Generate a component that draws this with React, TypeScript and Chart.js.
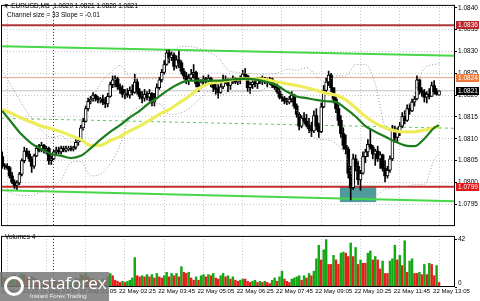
import React, { useEffect, useRef } from "react";
import { Chart, registerables } from "chart.js";

Chart.register(...registerables);

const FONT = '"Liberation Sans", Arial, sans-serif';

// ---- x slots (5-minute bars) ----
const SLOT_MIN = -0.5;
const SLOT_MAX = 184.5;

// ---- candles (EURUSD M5) ----
const OPEN = [
  1.08059, 1.08039, 1.08037, 1.08034, 1.08015, 1.08001, 1.07993, 1.07999, 1.08019, 1.0805,
  1.08072, 1.08065, 1.08054, 1.08037, 1.08061, 1.08078, 1.08074, 1.08085, 1.08074, 1.08078,
  1.0805, 1.08054, 1.0807, 1.08074, 1.0807, 1.08078, 1.08074, 1.08076, 1.08078, 1.08076,
  1.08081, 1.08092, 1.08096, 1.08125, 1.0814, 1.08169, 1.08186, 1.08191, 1.082, 1.08193,
  1.08189, 1.08191, 1.08184, 1.0818, 1.08197, 1.08224, 1.08235, 1.08237, 1.08219, 1.08213,
  1.08202, 1.08204, 1.082, 1.08211, 1.08206, 1.0823, 1.08208, 1.08197, 1.08193, 1.08202,
  1.08195, 1.08204, 1.08184, 1.08193, 1.08217, 1.08235, 1.08252, 1.0827, 1.08297, 1.08286,
  1.08292, 1.08266, 1.08281, 1.08274, 1.08255, 1.08244, 1.08233, 1.08239, 1.08248, 1.08252,
  1.08226, 1.08219, 1.0823, 1.08237, 1.08233, 1.08239, 1.08228, 1.08217, 1.08213, 1.08206,
  1.08219, 1.08235, 1.0823, 1.08222, 1.08233, 1.08237, 1.0823, 1.08235, 1.08239, 1.08248,
  1.08244, 1.08217, 1.08224, 1.0823, 1.08226, 1.08235, 1.0823, 1.08239, 1.08235, 1.0823,
  1.08237, 1.08222, 1.08217, 1.08208, 1.08195, 1.08193, 1.08186, 1.08184, 1.08191, 1.082,
  1.08175, 1.08156, 1.08129, 1.08147, 1.0814, 1.08131, 1.08123, 1.08118, 1.08153, 1.08129,
  1.08116, 1.08173, 1.08211, 1.0823, 1.08246, 1.08217, 1.08191, 1.08169, 1.08142, 1.08112,
  1.08085, 1.08076, 1.08021, 1.07988, 1.08054, 1.08037, 1.08006, 1.08021, 1.08059, 1.0807,
  1.08087, 1.08081, 1.08065, 1.08072, 1.08054, 1.08063, 1.08032, 1.08015, 1.08028, 1.08054,
  1.0812, 1.08103, 1.08116, 1.08129, 1.08151, 1.08142, 1.08169, 1.08164, 1.08184, 1.08191,
  1.08235, 1.08211, 1.08206, 1.08195, 1.08202, 1.08197, 1.08222, 1.08208, 1.082,
];
const HIGH = [
  1.0807, 1.08043, 1.08043, 1.08037, 1.08023, 1.08006, 1.08004, 1.08023, 1.08054, 1.08081,
  1.08078, 1.08072, 1.08059, 1.08065, 1.08085, 1.08087, 1.08092, 1.08087, 1.08083, 1.08081,
  1.08061, 1.08074, 1.08081, 1.08081, 1.08083, 1.08083, 1.08083, 1.08083, 1.08083, 1.08083,
  1.08098, 1.08103, 1.08131, 1.08147, 1.08175, 1.08193, 1.08197, 1.08206, 1.08202, 1.08197,
  1.08195, 1.082, 1.08195, 1.08204, 1.0823, 1.08244, 1.08244, 1.08241, 1.08226, 1.08222,
  1.08213, 1.08215, 1.08219, 1.08224, 1.08248, 1.08237, 1.08215, 1.08208, 1.08213, 1.08208,
  1.08213, 1.08206, 1.08204, 1.08226, 1.08241, 1.08259, 1.08279, 1.08303, 1.08303, 1.08299,
  1.08297, 1.0829, 1.08301, 1.08279, 1.08261, 1.08252, 1.08248, 1.08259, 1.0827, 1.08255,
  1.08239, 1.08235, 1.08244, 1.08241, 1.08246, 1.08241, 1.08233, 1.08226, 1.08224, 1.08226,
  1.08246, 1.08244, 1.08237, 1.08237, 1.08244, 1.08241, 1.08239, 1.08244, 1.08257, 1.08261,
  1.08246, 1.0823, 1.08237, 1.08235, 1.08241, 1.08241, 1.08244, 1.08241, 1.08239, 1.08241,
  1.08239, 1.0823, 1.08226, 1.08215, 1.08202, 1.08197, 1.08193, 1.08197, 1.08208, 1.08202,
  1.0818, 1.0816, 1.08153, 1.0816, 1.08156, 1.08147, 1.08138, 1.08164, 1.08169, 1.08136,
  1.08182, 1.08222, 1.08239, 1.08255, 1.0825, 1.08217, 1.08197, 1.08178, 1.08153, 1.08125,
  1.08109, 1.08081, 1.08037, 1.08065, 1.08063, 1.08048, 1.08028, 1.0807, 1.08076, 1.08098,
  1.08123, 1.08085, 1.08076, 1.08083, 1.0807, 1.08065, 1.0805, 1.08037, 1.08061, 1.08131,
  1.08129, 1.08125, 1.08138, 1.0816, 1.08164, 1.08178, 1.0818, 1.08191, 1.08197, 1.08244,
  1.08237, 1.08217, 1.08213, 1.08208, 1.08215, 1.0823, 1.08233, 1.08215, 1.0821,
];
const LOW = [
  1.08032, 1.0803, 1.0803, 1.0801, 1.07997, 1.07986, 1.07984, 1.07995, 1.08015, 1.08045,
  1.08059, 1.08048, 1.08023, 1.08032, 1.08059, 1.0807, 1.0807, 1.08067, 1.08065, 1.08041,
  1.08041, 1.08052, 1.08063, 1.08065, 1.08065, 1.0807, 1.0807, 1.08072, 1.08072, 1.08072,
  1.08076, 1.08085, 1.08094, 1.0812, 1.08138, 1.08164, 1.0818, 1.08186, 1.08186, 1.08182,
  1.08182, 1.08178, 1.08171, 1.08173, 1.08195, 1.08217, 1.08219, 1.08213, 1.08204, 1.08195,
  1.08191, 1.08195, 1.08193, 1.082, 1.08204, 1.08202, 1.08191, 1.08182, 1.08186, 1.08189,
  1.08186, 1.08175, 1.08175, 1.08191, 1.08213, 1.0823, 1.08248, 1.08268, 1.08274, 1.08279,
  1.08257, 1.08261, 1.08263, 1.08248, 1.08237, 1.08226, 1.08224, 1.08235, 1.08239, 1.08219,
  1.08208, 1.08215, 1.08224, 1.08224, 1.08228, 1.08219, 1.08208, 1.08202, 1.08193, 1.08204,
  1.08215, 1.08226, 1.08208, 1.08213, 1.08226, 1.08226, 1.08224, 1.08226, 1.08235, 1.08239,
  1.08208, 1.08204, 1.08215, 1.08219, 1.08215, 1.08226, 1.08224, 1.08226, 1.08219, 1.08224,
  1.08217, 1.08213, 1.08204, 1.08191, 1.08186, 1.0818, 1.08178, 1.0818, 1.08184, 1.08169,
  1.08149, 1.0812, 1.08125, 1.08134, 1.08127, 1.08114, 1.08105, 1.08114, 1.0812, 1.08103,
  1.08114, 1.08171, 1.08204, 1.08222, 1.08208, 1.08182, 1.0816, 1.08131, 1.08103, 1.08076,
  1.08065, 1.0801, 1.0796, 1.07984, 1.08026, 1.07995, 1.07982, 1.08019, 1.08045, 1.08059,
  1.08076, 1.08054, 1.08039, 1.08048, 1.08032, 1.08026, 1.08001, 1.0801, 1.08023, 1.0805,
  1.08092, 1.08092, 1.08107, 1.08125, 1.08134, 1.0814, 1.08156, 1.08162, 1.08175, 1.08189,
  1.08202, 1.08197, 1.08184, 1.08182, 1.08191, 1.08197, 1.08202, 1.082, 1.082,
];
const CLOSE = [
  1.08039, 1.08037, 1.08034, 1.08015, 1.08001, 1.07993, 1.07999, 1.08019, 1.0805, 1.08072,
  1.08065, 1.08054, 1.08037, 1.08061, 1.08078, 1.08074, 1.08085, 1.08074, 1.08078, 1.0805,
  1.08054, 1.0807, 1.08074, 1.0807, 1.08078, 1.08074, 1.08076, 1.08078, 1.08076, 1.08081,
  1.08092, 1.08096, 1.08125, 1.0814, 1.08169, 1.08186, 1.08191, 1.082, 1.08193, 1.08189,
  1.08191, 1.08184, 1.0818, 1.08197, 1.08224, 1.08235, 1.08237, 1.08219, 1.08213, 1.08202,
  1.08204, 1.082, 1.08211, 1.08206, 1.0823, 1.08208, 1.08197, 1.08193, 1.08202, 1.08195,
  1.08204, 1.08184, 1.08193, 1.08217, 1.08235, 1.08252, 1.0827, 1.08297, 1.08286, 1.08292,
  1.08266, 1.08281, 1.08274, 1.08255, 1.08244, 1.08233, 1.08239, 1.08248, 1.08252, 1.08226,
  1.08219, 1.0823, 1.08237, 1.08233, 1.08239, 1.08228, 1.08217, 1.08213, 1.08206, 1.08219,
  1.08235, 1.0823, 1.08222, 1.08233, 1.08237, 1.0823, 1.08235, 1.08239, 1.08248, 1.08244,
  1.08217, 1.08224, 1.0823, 1.08226, 1.08235, 1.0823, 1.08239, 1.08235, 1.0823, 1.08237,
  1.08222, 1.08217, 1.08208, 1.08195, 1.08193, 1.08186, 1.08184, 1.08191, 1.082, 1.08175,
  1.08156, 1.08129, 1.08147, 1.0814, 1.08131, 1.08123, 1.08118, 1.08153, 1.08129, 1.08116,
  1.08173, 1.08211, 1.0823, 1.08246, 1.08217, 1.08191, 1.08169, 1.08142, 1.08112, 1.08085,
  1.08076, 1.08021, 1.07988, 1.08054, 1.08037, 1.08006, 1.08021, 1.08059, 1.0807, 1.08087,
  1.08081, 1.08065, 1.08072, 1.08054, 1.08063, 1.08032, 1.08015, 1.08028, 1.08054, 1.0812,
  1.08103, 1.08116, 1.08129, 1.08151, 1.08142, 1.08169, 1.08164, 1.08184, 1.08191, 1.08235,
  1.08211, 1.08206, 1.08195, 1.08202, 1.08197, 1.08222, 1.08208, 1.08202, 1.0821,
];
const VOLUME = [
  9, 8, 7, 9, 10, 11, 9, 10, 12, 11,
  8, 7, 9, 8, 7, 5, 6, 5, 4, 6,
  5, 7, 5, 4, 5, 3, 4, 3, 4, 5,
  8, 7, 11, 10, 12, 9, 7, 8, 6, 5,
  6, 7, 6, 9, 12, 10, 6, 5, 4, 5,
  4, 5, 6, 8, 26, 10, 9, 10, 9, 11,
  9, 11, 8, 12, 9, 8, 10, 13, 9, 12,
  10, 12, 9, 18, 13, 12, 13, 8, 6, 9,
  6, 10, 11, 9, 11, 10, 12, 8, 7, 10,
  12, 9, 10, 7, 9, 6, 5, 6, 7, 7,
  5, 4, 5, 6, 4, 5, 4, 5, 4, 3,
  6, 8, 5, 9, 14, 7, 5, 4, 7, 8,
  9, 10, 6, 10, 8, 12, 10, 14, 25, 37,
  24, 33, 42, 20, 20, 28, 24, 20, 30, 31,
  30, 27, 39, 27, 35, 20, 24, 21, 21, 30,
  32, 24, 27, 24, 16, 23, 12, 12, 23, 25,
  37, 24, 28, 19, 41, 13, 23, 25, 12, 12,
  13, 11, 20, 11, 21, 20, 10, 19, 4,
];

// ---- indicator lines, sampled at these bars ----
const LINE_BARS = [
  0, 4, 8, 12, 16, 20, 24, 28, 32, 36, 40, 44, 48, 52, 56, 60, 64, 68, 72, 76, 80, 84, 88,
  92, 96, 100, 104, 108, 112, 116, 120, 124, 128, 132, 136, 140, 144, 148, 152, 156, 160,
  164, 168, 172, 176, 178,
];
const MA_FAST = [
  1.08164, 1.08136, 1.08109, 1.08089, 1.08076, 1.08065, 1.08061, 1.08056, 1.08061, 1.08078,
  1.08098, 1.08116, 1.08131, 1.08149, 1.08164, 1.08182, 1.08197, 1.08213, 1.08226, 1.08233,
  1.08233, 1.08233, 1.08233, 1.08235, 1.08237, 1.08237, 1.08235, 1.0823, 1.08222, 1.08208,
  1.08197, 1.08193, 1.08189, 1.08186, 1.08184, 1.08169, 1.08151, 1.08129, 1.08116, 1.08105,
  1.08094, 1.08085, 1.08083, 1.081, 1.08125, 1.08131,
];
const MA_SLOW = [
  1.08167, 1.08158, 1.08147, 1.08138, 1.08129, 1.08123, 1.08116, 1.08107, 1.08098, 1.08085,
  1.08085, 1.08096, 1.08105, 1.08118, 1.08129, 1.08142, 1.08156, 1.08167, 1.08182, 1.08197,
  1.08215, 1.08226, 1.0823, 1.08233, 1.08237, 1.08237, 1.08237, 1.08235, 1.0823, 1.08226,
  1.08222, 1.08217, 1.08211, 1.08204, 1.082, 1.08189, 1.08171, 1.08151, 1.08136, 1.08125,
  1.08118, 1.08116, 1.08116, 1.0812, 1.08125, 1.08127,
];
const BAND_UPPER = [
  1.08257, 1.08219, 1.0818, 1.08147, 1.0812, 1.08103, 1.08107, 1.08092, 1.08107, 1.0818,
  1.08226, 1.0825, 1.08268, 1.08241, 1.08237, 1.08237, 1.08239, 1.08283, 1.0831, 1.08312,
  1.08307, 1.08299, 1.08286, 1.08257, 1.08252, 1.0825, 1.08248, 1.08248, 1.0825, 1.08259,
  1.08257, 1.08263, 1.08244, 1.0823, 1.08244, 1.08244, 1.0827, 1.0827, 1.08226, 1.08129,
  1.08116, 1.08156, 1.08206, 1.08261, 1.0827, 1.08272,
];
const BAND_LOWER = [
  1.07984, 1.07975, 1.0797, 1.0797, 1.07979, 1.0799, 1.08006, 1.08045, 1.08048, 1.08015,
  1.08019, 1.08043, 1.08085, 1.08153, 1.08173, 1.08178, 1.0818, 1.08156, 1.08158, 1.08169,
  1.08189, 1.08208, 1.08197, 1.08206, 1.08208, 1.08208, 1.08208, 1.08217, 1.08213, 1.08184,
  1.08164, 1.08123, 1.081, 1.08098, 1.08089, 1.08061, 1.0799, 1.07966, 1.0797, 1.07984,
  1.07988, 1.0799, 1.07995, 1.07995, 1.08052, 1.08065,
];

// ---- channel & levels ----
const CHANNEL_BARS = [-0.5, 184.5];
const CHANNEL_UPPER = [1.08312, 1.0829];
const CHANNEL_MIDDLE = [1.08147, 1.08124];
const CHANNEL_LOWER = [1.07982, 1.07957];
const LEVEL_RESISTANCE = 1.0836;
const LEVEL_PIVOT = 1.0824;
const LEVEL_BID = 1.0821;
const LEVEL_SUPPORT = 1.0799;
const ZONE_BARS = [137.6, 152.4];
const ZONE_PRICES = [1.07955, 1.07992];

// ---- axes ----
const PRICE_MIN = 1.079;
const PRICE_MAX = 1.084066;
const PRICE_TICKS = [1.0795, 1.08, 1.0805, 1.081, 1.0815, 1.082, 1.0825, 1.083, 1.0835, 1.084];
const VOLUME_MAX = 45.3;
const VOLUME_TICKS = [0, 42];
const DAY_SEPARATOR_BAR = 21;
const TIME_LABEL_BARS = [2, 18, 34, 50, 66, 82, 98, 114, 130, 146, 162, 178];
const TIME_LABELS = [
  "21 May 22:25", "21 May 23:45", "22 May 01:05", "22 May 02:25", "22 May 03:45", "22 May 05:05",
  "22 May 06:25", "22 May 07:45", "22 May 09:05", "22 May 10:25", "22 May 11:45", "22 May 13:05",
];

const GRID = "#c6c6c6";
const X_TICK_VALUES = [...TIME_LABEL_BARS, DAY_SEPARATOR_BAR].sort((a, b) => a - b);

const framePlugin = {
  id: "frame",
  afterDatasetsDraw(chart: any) {
    const { ctx, chartArea: a } = chart;
    ctx.save();
    ctx.strokeStyle = "#000";
    ctx.lineWidth = 1;
    ctx.strokeRect(a.left + 0.5, a.top + 0.5, a.right - a.left - 1, a.bottom - a.top - 1);
    ctx.restore();
  },
};

const zonePlugin = {
  id: "zone",
  beforeDatasetsDraw(chart: any) {
    const { ctx, scales } = chart;
    const x0 = scales.x.getPixelForValue(ZONE_BARS[0]);
    const x1 = scales.x.getPixelForValue(ZONE_BARS[1]);
    const y0 = scales.y.getPixelForValue(ZONE_PRICES[1]);
    const y1 = scales.y.getPixelForValue(ZONE_PRICES[0]);
    ctx.save();
    ctx.fillStyle = "#4f9a9a";
    ctx.fillRect(x0, y0, x1 - x0, y1 - y0);
    ctx.restore();
  },
};

const TAGS = [
  { value: LEVEL_RESISTANCE, bg: "#b8282c" },
  { value: LEVEL_PIVOT, bg: "#ef7a3c" },
  { value: LEVEL_BID, bg: "#000000" },
  { value: LEVEL_SUPPORT, bg: "#e01818" },
];
const tagPlugin = {
  id: "tags",
  afterDraw(chart: any) {
    const { ctx, chartArea, scales } = chart;
    ctx.save();
    ctx.font = `6.5px ${FONT}`;
    ctx.textBaseline = "middle";
    TAGS.forEach((t) => {
      const py = Math.round(scales.y.getPixelForValue(t.value));
      ctx.fillStyle = t.bg;
      ctx.fillRect(chartArea.right + 1, py - 4, 23, 8);
      ctx.fillStyle = "#fff";
      ctx.fillText(t.value.toFixed(4), chartArea.right + 3, py + 0.5);
    });
    ctx.restore();
  },
};

function xGrid(showLabels: boolean) {
  return {
    type: "linear",
    offset: false,
    min: SLOT_MIN,
    max: SLOT_MAX,
    afterBuildTicks: (s: any) => {
      s.ticks = X_TICK_VALUES.map((v) => ({ value: v }));
    },
    ticks: {
      display: showLabels,
      autoSkip: false,
      maxRotation: 0,
      minRotation: 0,
      align: "start",
      labelOffset: -6,
      padding: 1,
      color: "#000",
      font: { size: 6.1, family: FONT },
      callback: (v: any) => {
        const i = TIME_LABEL_BARS.indexOf(Number(v));
        return i >= 0 ? TIME_LABELS[i] : "";
      },
    },
    grid: {
      offset: false,
      color: (c: any) => (c.tick && c.tick.value === DAY_SEPARATOR_BAR ? "#2a2a2a" : GRID),
      lineWidth: 1,
      drawTicks: false,
    },
    border: { display: false, dash: [1, 2] },
    afterFit: (s: any) => {
      s.height = showLabels ? 14 : 0;
    },
  };
}

function lineSet(values: number[], color: string, width: number, order: number, dash?: number[]) {
  return {
    type: "line",
    data: LINE_BARS.map((b, i) => ({ x: b, y: values[i] })),
    borderColor: color,
    borderWidth: width,
    borderDash: dash || [],
    pointRadius: 0,
    tension: 0.4,
    cubicInterpolationMode: "monotone",
    order,
  };
}

function levelSet(values: number[], color: string, width: number, order: number, dash?: number[]) {
  return {
    type: "line",
    data: CHANNEL_BARS.map((b, i) => ({ x: b, y: values[i] })),
    borderColor: color,
    borderWidth: width,
    borderDash: dash || [],
    pointRadius: 0,
    tension: 0,
    order,
  };
}

export default function App() {
  const priceRef = useRef<HTMLCanvasElement>(null);
  const volRef = useRef<HTMLCanvasElement>(null);

  useEffect(() => {
    const bull = CLOSE.map((c, i) => c >= OPEN[i]);
    const price = new Chart(priceRef.current as HTMLCanvasElement, {
      type: "bar",
      data: {
        datasets: [
          lineSet(MA_FAST, "#1c7d1c", 2.2, -3),
          lineSet(MA_SLOW, "#eded5c", 3.2, -2),
          lineSet(BAND_UPPER, "#9a9a9a", 1, -1, [1, 2]),
          lineSet(BAND_LOWER, "#9a9a9a", 1, -1, [1, 2]),
          {
            type: "bar",
            data: OPEN.map((o, i) => ({ x: i, y: [Math.min(o, CLOSE[i]), Math.max(o, CLOSE[i])] })),
            backgroundColor: bull.map((b) => (b ? "#ffffff" : "#000000")),
            borderColor: "#000000",
            borderWidth: bull.map((b) => (b ? 1 : 0)),
            borderSkipped: false,
            barThickness: 3,
            grouped: false,
            order: 1,
          },
          {
            type: "bar",
            data: HIGH.map((h, i) => ({ x: i, y: [LOW[i], h] })),
            backgroundColor: "#000000",
            barThickness: 1,
            grouped: false,
            order: 2,
          },
          levelSet(CHANNEL_UPPER, "#46d846", 2, 5),
          levelSet(CHANNEL_LOWER, "#46d846", 2, 5),
          levelSet(CHANNEL_MIDDLE, "#5ec85e", 1, 5, [3, 3]),
          levelSet([LEVEL_RESISTANCE, LEVEL_RESISTANCE], "#b03434", 2, 6),
          levelSet([LEVEL_PIVOT, LEVEL_PIVOT], "#e6a488", 1, 6),
          levelSet([LEVEL_BID, LEVEL_BID], "#c0c0c0", 1, 6),
          levelSet([LEVEL_SUPPORT, LEVEL_SUPPORT], "#c42a2a", 2, 6),
        ] as any,
      },
      options: {
        animation: false,
        responsive: false,
        events: [],
        layout: { padding: { left: 1, right: 0, top: 0, bottom: 1 } },
        plugins: { legend: { display: false }, tooltip: { enabled: false } },
        scales: {
          x: xGrid(false) as any,
          y: {
            type: "linear",
            position: "right",
            min: PRICE_MIN,
            max: PRICE_MAX,
            afterBuildTicks: (s: any) => {
              s.ticks = PRICE_TICKS.map((v) => ({ value: v }));
            },
            afterFit: (s: any) => {
              s.width = 25;
            },
            ticks: {
              color: "#000",
              padding: 1,
              font: { size: 6.5, family: FONT },
              callback: (v: any) => Number(v).toFixed(4),
            },
            grid: { color: GRID, drawTicks: true, tickLength: 2, tickColor: "#000" },
            border: { display: false, dash: [1, 2] },
          } as any,
        },
      },
      plugins: [zonePlugin, framePlugin, tagPlugin],
    });

    const volColors = VOLUME.map((v, i) => (i === 0 || v > VOLUME[i - 1] ? "#14a814" : "#e61e1e"));
    const vol = new Chart(volRef.current as HTMLCanvasElement, {
      type: "bar",
      data: {
        datasets: [
          {
            data: VOLUME.map((v, i) => ({ x: i, y: v })),
            backgroundColor: volColors,
            barThickness: 1.8,
            grouped: false,
          },
        ] as any,
      },
      options: {
        animation: false,
        responsive: false,
        events: [],
        layout: { padding: { left: 1, right: 0, top: 1, bottom: 0 } },
        plugins: { legend: { display: false }, tooltip: { enabled: false } },
        scales: {
          x: xGrid(true) as any,
          y: {
            type: "linear",
            position: "right",
            min: 0,
            max: VOLUME_MAX,
            afterBuildTicks: (s: any) => {
              s.ticks = VOLUME_TICKS.map((v) => ({ value: v }));
            },
            afterFit: (s: any) => {
              s.width = 25;
            },
            ticks: {
              color: "#000",
              padding: 1,
              font: { size: 6.5, family: FONT },
              callback: (v: any) => (Number(v) === 0 ? ["0", ""] : String(v)),
            },
            grid: { drawOnChartArea: false, drawTicks: true, tickLength: 2, tickColor: "#000" },
            border: { display: false },
          } as any,
        },
      },
      plugins: [framePlugin],
    });

    return () => {
      price.destroy();
      vol.destroy();
    };
  }, []);

  const txt: React.CSSProperties = {
    position: "absolute",
    fontFamily: FONT,
    fontSize: "6.5px",
    lineHeight: "8px",
    color: "#000",
    whiteSpace: "nowrap",
  };

  return (
    <div style={{ position: "absolute", left: 0, top: 0, width: 480, height: 301, background: "#fff", overflow: "hidden" }}>
      <canvas ref={priceRef} width={480} height={231} style={{ position: "absolute", left: 0, top: 0, width: 480, height: 231 }} />
      <canvas ref={volRef} width={480} height={70} style={{ position: "absolute", left: 0, top: 231, width: 480, height: 70 }} />
      <div style={{ ...txt, left: 3, top: 2 }}>▼ EURUSD,M5&nbsp; 1.0820 1.0821 1.0820 1.0821</div>
      <div style={{ ...txt, left: 7, top: 11 }}>Channel size = 33 Slope = -0.01</div>
      <div style={{ ...txt, left: 5, top: 233 }}>Volumes 4</div>
      <div style={{ position: "absolute", left: 0, top: 272, width: 109, height: 29, background: "rgba(120,120,120,0.85)" }}>
        <div style={{ position: "absolute", left: 4, top: 4, width: 14, height: 14, border: "3px solid #fff", borderRadius: "50%" }} />
        <div style={{ position: "absolute", left: 27, top: 0, fontFamily: '"Open Sans", sans-serif', fontSize: "17px", lineHeight: "21px", color: "#fff" }}>instaforex</div>
        <div style={{ position: "absolute", left: 30, top: 20, fontFamily: FONT, fontSize: "6px", lineHeight: "8px", color: "#f0f0f0", whiteSpace: "nowrap" }}>Instant Forex Trading</div>
      </div>
    </div>
  );
}
